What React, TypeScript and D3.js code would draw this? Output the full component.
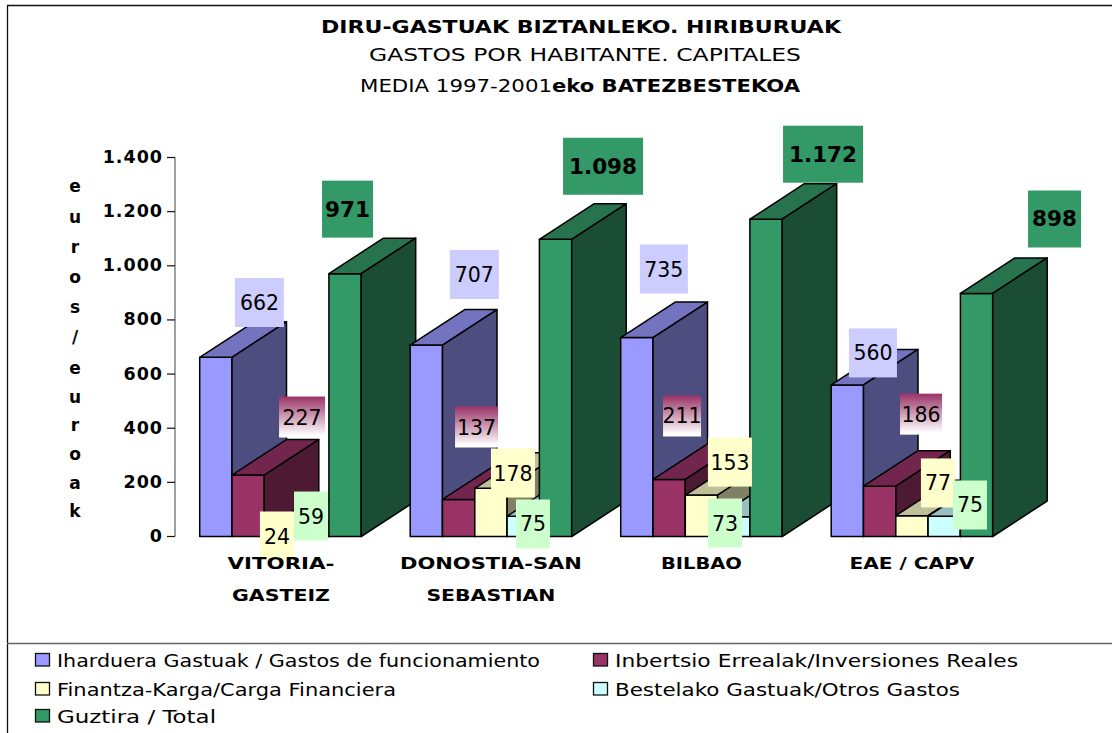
import React from "react";
import * as d3 from "d3";

const cityLines = [["VITORIA-", "GASTEIZ"], ["DONOSTIA-SAN", "SEBASTIAN"], ["BILBAO"], ["EAE / CAPV"]];
const cityLineWidths = [[107, 98], [182, 129], [81], [125]];
const cities = ["Vitoria", "Donostia", "Bilbao", "EAE"];

const funcionamiento = [662, 707, 735, 560];
const inversiones = [227, 137, 211, 186];
const financiera = [24, 178, 153, 77];
const otros = [59, 75, 73, 75];
const total = [971, 1098, 1172, 898];

const seriesNames = [
  "Iharduera Gastuak / Gastos de funcionamiento",
  "Inbertsio Errealak/Inversiones Reales",
  "Finantza-Karga/Carga Financiera",
  "Bestelako Gastuak/Otros Gastos",
  "Guztira / Total",
];
const legendWidths = [483, 403, 339, 345, 159];
const seriesValues = [funcionamiento, inversiones, financiera, otros, total];
const fronts = ["#9999ff", "#993366", "#ffffcc", "#ccffff", "#339966"];
const labelFills = ["#ccccff", "url(#mg)", "#ffffcc", "#ccffcc", "#339966"];
const labelHeights = [49, 41, 49, 49, 57];
const labelWidths = [[49, 49, 48, 48], [46, 43, 38, 42], [34, 44, 44, 34], [34, 34, 34, 34], [51, 80, 80, 53]];
const labelOffsets = [
  [[43.6, -54.8], [48, -70.6], [27, -68.5], [25.6, -32]],
  [[53.9, -58], [17.9, -72.4], [12.9, -63.4], [41.4, -72]],
  [[-3.5, 6], [22, -15.3], [28.5, -33], [26, -32.7]],
  [[-1.7, -4.5], [9.7, 7.8], [-8.7, 6.3], [25.7, -11.2]],
  [[2.5, -64.5], [47.5, -73], [57, -65], [78, -74.4]],
];
const axisLetters = ["e", "u", "r", "o", "s", "/", "e", "u", "r", "o", "a", "k"];
const axisLetterY = [186, 217, 247, 277, 307, 337, 368, 397, 425, 454, 483, 511];

const FONT = "'DejaVu Sans', sans-serif";
const locale = d3.formatLocale({ thousands: ".", grouping: [3], decimal: ",", currency: ["", ""] });
const fmt = locale.format(",");
const DEPTH_X = 54.5;
const DEPTH_Y = 35.5;

export default function App() {
  const y = d3.scaleLinear().domain([0, 1400]).range([536.5, 157.5]);
  const x0 = d3.scaleBand().domain(cities).range([199.7, 199.7 + 210.5 * 4]);
  const x1 = d3.scaleBand().domain(seriesNames).range([0, 161.5]);
  const bw = x1.bandwidth();
  const shade = (c: string, k: number) => {
    const r = d3.rgb(c);
    return d3.rgb(r.r * k, r.g * k, r.b * k).formatHex();
  };
  return (
    <svg width={1112} height={733} style={{ position: "absolute", left: 0, top: 0, display: "block", background: "#fff" }} fontFamily={FONT}>
      <defs>
        <linearGradient id="mg" x1="0" y1="0" x2="0" y2="1">
          <stop offset="0" stopColor="#993366" />
          <stop offset="0.95" stopColor="#ffffff" />
        </linearGradient>
      </defs>
      <path d="M1112,5.5H7.5V733" fill="none" stroke="#111" strokeWidth={1.3} />
      <line x1={7} x2={1112} y1={643.5} y2={643.5} stroke="#666" strokeWidth={1.5} />

      <text x={581} y={33} textAnchor="middle" fontWeight={700} fontSize={17.5} textLength={520} lengthAdjust="spacingAndGlyphs">DIRU-GASTUAK BIZTANLEKO. HIRIBURUAK</text>
      <text x={585} y={61} textAnchor="middle" fontSize={18} textLength={432} lengthAdjust="spacingAndGlyphs">GASTOS POR HABITANTE. CAPITALES</text>
      <text x={360} y={92} fontSize={18}>
        <tspan textLength={192} lengthAdjust="spacingAndGlyphs">MEDIA 1997-2001</tspan>
        <tspan fontWeight={700} textLength={248} lengthAdjust="spacingAndGlyphs">eko BATEZBESTEKOA</tspan>
      </text>

      <line x1={175} x2={175} y1={y(1400)} y2={y(0)} stroke="#808080" strokeWidth={1.5} />
      {y.ticks(7).map((t) => (
        <g key={t}>
          <line x1={167} x2={175} y1={y(t)} y2={y(t)} stroke="#111" strokeWidth={1.2} />
          <text x={163} y={y(t) + 5.5} textAnchor="end" fontWeight={700} fontSize={17.5} letterSpacing={1}>{fmt(t)}</text>
        </g>
      ))}
      {axisLetters.map((l, i) => (
        <text key={i} x={75} y={axisLetterY[i] + 6} textAnchor="middle" fontWeight={700} fontSize={17}>{l}</text>
      ))}

      {cities.map((c, ci) =>
        seriesNames.map((s, si) => {
          const v = seriesValues[si][ci];
          const l = (x0(c) as number) + (x1(s) as number);
          const r = l + bw;
          const t = y(v);
          const b = y(0);
          const f = fronts[si];
          return (
            <g key={c + s} stroke="#000" strokeWidth={1.5} strokeLinejoin="round">
              <rect x={l} y={t} width={bw} height={b - t} fill={f} />
              <path d={`M${l},${t}L${l + DEPTH_X},${t - DEPTH_Y}H${r + DEPTH_X}L${r},${t}Z`} fill={shade(f, 0.75)} />
              <path d={`M${r},${t}L${r + DEPTH_X},${t - DEPTH_Y}V${b - DEPTH_Y}L${r},${b}Z`} fill={shade(f, 0.5)} />
            </g>
          );
        })
      )}

      {cities.map((c, ci) =>
        seriesNames.map((s, si) => {
          const v = seriesValues[si][ci];
          const cx = (x0(c) as number) + (x1(s) as number) + bw / 2 + labelOffsets[si][ci][0];
          const cy = y(v) + labelOffsets[si][ci][1];
          const w = labelWidths[si][ci];
          const h = labelHeights[si];
          const bold = si === 4;
          const txt = fmt(v);
          return (
            <g key={"l" + c + s}>
              <rect x={cx - w / 2} y={cy - h / 2} width={w} height={h} fill={labelFills[si]} />
              <text
                x={cx}
                y={cy + (bold ? 7.5 : 7.5)}
                textAnchor="middle"
                fontSize={bold ? 21.5 : 20.5}
                fontWeight={bold ? 700 : 400}
              >
                {txt}
              </text>
            </g>
          );
        })
      )}

      {cityLines.map((lines, ci) =>
        lines.map((t, li) => (
          <text
            key={t}
            x={(x0(cities[ci]) as number) + 161.5 / 2 + (ci === 0 ? 0.5 : 0)}
            y={569 + li * 32}
            textAnchor="middle"
            fontWeight={700}
            fontSize={16.5}
            textLength={cityLineWidths[ci][li]}
            lengthAdjust="spacingAndGlyphs"
          >
            {t}
          </text>
        ))
      )}

      {seriesNames.map((s, i) => {
        const col = i === 4 ? 0 : i % 2;
        const row = Math.floor(i / 2);
        const sx = col === 0 ? 35.5 : 593.5;
        const ty = [660, 689, 716][row];
        return (
          <g key={s}>
            <rect x={sx} y={ty - 6.5} width={14} height={12.5} fill={fronts[i]} stroke="#111" strokeWidth={1.3} />
            <text x={col === 0 ? 57 : 615} y={ty + 6.5} fontSize={18} textLength={legendWidths[i]} lengthAdjust="spacingAndGlyphs">{s}</text>
          </g>
        );
      })}
    </svg>
  );
}
